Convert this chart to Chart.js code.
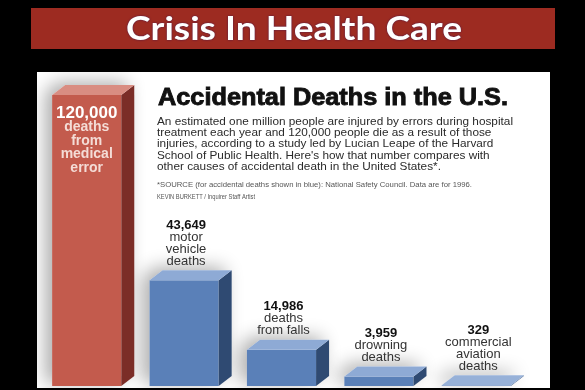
<!DOCTYPE html>
<html>
<head>
<meta charset="utf-8">
<script src="https://cdn.jsdelivr.net/npm/chart.js@4"></script>
<style>
  html, body { margin: 0; padding: 0; background: #000; }
  canvas { display: block; }
</style>
</head>
<body>
<canvas id="deathsChart" width="585" height="390"></canvas>
<script>
const categories = ['medical error', 'motor vehicle', 'falls', 'drowning', 'commercial aviation'];
const deaths = [120000, 43649, 14986, 3959, 329];
const valueLabels = ['120,000', '43,649', '14,986', '3,959', '329'];
const captionLines = [
  ['deaths', 'from', 'medical', 'error'],
  ['motor', 'vehicle', 'deaths'],
  ['deaths', 'from falls'],
  ['drowning', 'deaths'],
  ['commercial', 'aviation', 'deaths'],
];
const bannerTitle = 'Crisis In Health Care';
const chartTitle = 'Accidental Deaths in the U.S.';
const introLines = [
  'An estimated one million people are injured by errors during hospital',
  'treatment each year and 120,000 people die as a result of those',
  'injuries, according to a study led by Lucian Leape of the Harvard',
  "School of Public Health. Here's how that number compares with",
  'other causes of accidental death in the United States*.',
];
const sourceNote = '*SOURCE (for accidental deaths shown in blue): National Safety Council. Data are for 1996.';
const creditNote = 'KEVIN BURKETT / Inquirer Staff Artist';

const frontColors = ['#c35b4d', '#5a80b8', '#5a80b8', '#5a80b8', '#6f91c4'];
const sideColors = ['#7b2d27', '#2f4a72', '#2f4a72', '#2f4a72', '#4a6894'];
const topColors = ['#d98d82', '#8eaad5', '#8eaad5', '#8eaad5', '#97b1d8'];
const depthX = 13;
const depthY = 10;

// draw text stretched horizontally to a given width
function fitText(ctx, text, x, y, width, stroke) {
  const sx = width / ctx.measureText(text).width;
  ctx.save();
  ctx.translate(x, y);
  ctx.scale(sx, 1);
  ctx.fillText(text, 0, 0);
  if (stroke) ctx.strokeText(text, 0, 0);
  ctx.restore();
  return sx;
}

const frame = {
  id: 'frame',
  beforeDraw(chart) {
    const { ctx } = chart;
    ctx.save();
    ctx.fillStyle = '#000';
    ctx.fillRect(0, 0, chart.width, chart.height);

    ctx.fillStyle = '#9d2b21';
    ctx.fillRect(31, 8, 524, 41);
    ctx.fillStyle = '#fff';
    ctx.font = 'bold 33px Lato';
    ctx.textAlign = 'left';
    ctx.textBaseline = 'middle';
    ctx.shadowColor = 'rgba(40, 20, 90, 0.8)';
    ctx.shadowBlur = 2;
    fitText(ctx, bannerTitle, 126, 29, 336);
    ctx.shadowColor = 'transparent';

    ctx.fillStyle = '#fff';
    ctx.fillRect(37, 72, 513, 316);

    ctx.fillStyle = '#111';
    ctx.strokeStyle = '#111';
    ctx.lineWidth = 0.9;
    ctx.font = 'bold 24px "Liberation Sans"';
    fitText(ctx, chartTitle, 158, 98, 350, true);

    ctx.fillStyle = '#2a2a2a';
    ctx.font = '10.5px "Liberation Sans"';
    const sx = ctx.measureText(introLines[0]).width;
    introLines.forEach((line, i) => {
      const w = ctx.measureText(line).width * (356 / sx);
      fitText(ctx, line, 157, 122 + i * 11.25, w);
    });

    ctx.fillStyle = '#555';
    ctx.font = '6.5px "Liberation Sans"';
    fitText(ctx, sourceNote, 157, 185, 315);
    fitText(ctx, creditNote, 157, 197, 98);
    ctx.restore();
  },
  beforeDatasetsDraw(chart) {
    const { ctx } = chart;
    const bars = chart.getDatasetMeta(0).data;
    ctx.save();
    ctx.shadowColor = 'rgba(0, 0, 0, 0.32)';
    ctx.shadowBlur = 18;
    ctx.shadowOffsetX = -7;
    ctx.shadowOffsetY = -3;
    ctx.fillStyle = '#fff';
    bars.forEach((bar) => {
      const left = bar.x - bar.width / 2;
      const right = bar.x + bar.width / 2;
      ctx.beginPath();
      ctx.moveTo(left, bar.base);
      ctx.lineTo(left, bar.y);
      ctx.lineTo(left + depthX, bar.y - depthY);
      ctx.lineTo(right + depthX, bar.y - depthY);
      ctx.lineTo(right + depthX, bar.base - depthY);
      ctx.lineTo(right, bar.base);
      ctx.closePath();
      ctx.fill();
    });
    ctx.restore();
  },
  afterDatasetsDraw(chart) {
    const { ctx } = chart;
    const bars = chart.getDatasetMeta(0).data;
    ctx.save();
    bars.forEach((bar, i) => {
      const left = bar.x - bar.width / 2;
      const right = bar.x + bar.width / 2;

      ctx.fillStyle = sideColors[i];
      ctx.beginPath();
      ctx.moveTo(right, bar.y);
      ctx.lineTo(right + depthX, bar.y - depthY);
      ctx.lineTo(right + depthX, bar.base - depthY);
      ctx.lineTo(right, bar.base);
      ctx.closePath();
      ctx.fill();

      ctx.fillStyle = topColors[i];
      ctx.beginPath();
      ctx.moveTo(left, bar.y);
      ctx.lineTo(left + depthX, bar.y - depthY);
      ctx.lineTo(right + depthX, bar.y - depthY);
      ctx.lineTo(right, bar.y);
      ctx.closePath();
      ctx.fill();

      ctx.textAlign = 'center';
      ctx.textBaseline = 'middle';
      const lines = captionLines[i];
      if (i === 0) {
        // the tall bar carries its label inside
        ctx.fillStyle = '#fff';
        ctx.font = 'bold 17px "Liberation Sans"';
        ctx.fillText(valueLabels[i], bar.x, bar.y + 18);
        ctx.fillStyle = '#f4dcd6';
        ctx.font = 'bold 14px "Liberation Sans"';
        lines.forEach((line, j) => {
          ctx.fillText(line, bar.x, bar.y + 32 + j * 13.7);
        });
      } else {
        const lastY = bar.y - 19;
        const firstY = lastY - lines.length * 12;
        ctx.fillStyle = '#111';
        ctx.font = 'bold 13px "Liberation Sans"';
        ctx.fillText(valueLabels[i], bar.x + 2, firstY);
        ctx.fillStyle = '#333';
        ctx.font = '13px "Liberation Sans"';
        lines.forEach((line, j) => {
          ctx.fillText(line, bar.x + 2, firstY + (j + 1) * 12);
        });
      }
    });
    ctx.restore();
  },
};

const ctx = document.getElementById('deathsChart').getContext('2d');
const deathsChart = new Chart(ctx, {
  type: 'bar',
  data: {
    labels: categories,
    datasets: [{
      label: 'Deaths',
      data: deaths,
      backgroundColor: frontColors,
      borderWidth: 0,
      categoryPercentage: 1,
      barPercentage: 0.71,
    }],
  },
  options: {
    responsive: false,
    animation: false,
    devicePixelRatio: 1,
    layout: {
      padding: { left: 38, right: 60, top: 95, bottom: 4 },
    },
    plugins: {
      legend: { display: false },
      tooltip: { enabled: false },
    },
    scales: {
      x: { display: false },
      y: { display: false, min: 0, max: 120000 },
    },
  },
  plugins: [frame],
});
</script>
</body>
</html>
